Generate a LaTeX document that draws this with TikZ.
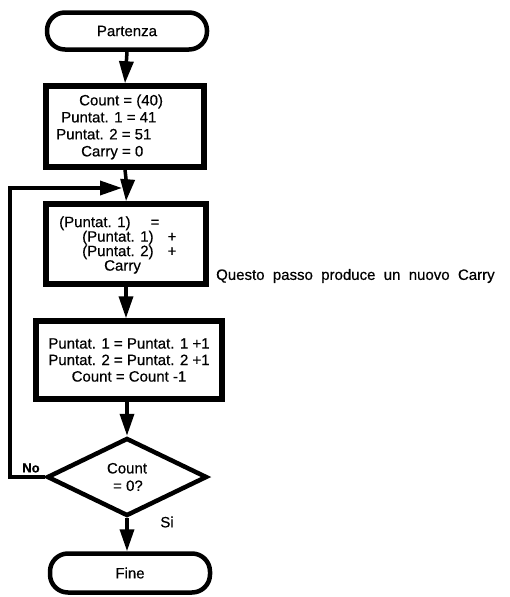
\documentclass[tikz,border=0pt]{standalone}
\usepackage{fontspec}
\setmainfont{Liberation Sans}[FakeBold=0.5]
\usetikzlibrary{arrows.meta,shapes.geometric}
\begin{document}
\begin{tikzpicture}[x=1pt,y=-1pt,
  term/.style={draw,line width=4.5pt,rounded corners=18pt,minimum width=160pt,minimum height=37pt,inner sep=0pt,font=\fontsize{15}{17}\selectfont},
  procbox/.style={draw,line width=5.5pt,inner sep=0pt},
  txt/.style={inner sep=0pt,font=\fontsize{15}{17}\selectfont},
  decision/.style={draw,shape=diamond,line width=4.5pt,minimum width=160pt,minimum height=78pt,aspect=2.05,inner sep=0pt,font=\fontsize{15}{17.5}\selectfont,align=center},
  conn/.style={line width=3.5pt,-{Triangle[length=22pt,width=14pt]}},
  plain/.style={line width=3.5pt},
  lbl/.style={font=\fontsize{15}{17}\selectfont,inner sep=0pt}]
\useasboundingbox (0,0) rectangle (509,597);
% nodes
\node[term] (start) at (127,31) {Partenza};
\node[procbox,minimum width=158pt,minimum height=81pt] (b1) at (125,126.5) {};
\node[txt,anchor=west,align=left] (t1) at (56,127) {\hspace*{23pt}Count = (40)\\\hspace*{5pt}Puntat. 1 = 41\\Puntat. 2 = 51\\\hspace*{25pt}Carry = 0};
\node[procbox,minimum width=160pt,minimum height=80pt] (b2) at (126,244) {};
\node[txt,anchor=west,align=left,font=\fontsize{15}{14.5}\selectfont] (t2) at (59,245) {(Puntat. 1)\hspace{20pt}=\\\hspace*{23pt}(Puntat. 1)\hspace{14pt}+\\\hspace*{23pt}(Puntat. 2)\hspace{14pt}+\\\hspace*{45pt}Carry};
\node[lbl,anchor=west] (note) at (216,276) {Questo\ \ passo\ \ produce\ \ un\ \ nuovo\ \ Carry};
\node[procbox,minimum width=186pt,minimum height=78pt,align=center,font=\fontsize{15}{16.5}\selectfont] (b3) at (129,360) {Puntat. 1 = Puntat. 1 +1\\Puntat. 2 = Puntat. 2 +1\\Count = Count -1};
\node[decision] (dec) at (127,477) {Count\\\hspace*{2pt}= 0?};
\node[term,minimum height=39pt] (fine) at (130,573) {Fine};
\node[lbl,font=\fontsize{13}{15}\bfseries] (no) at (31,468) {No};
\node[lbl] (si) at (167,522) {Si};
% connectors
\coordinate (j) at (127,188);
\coordinate (lc1) at (10,477);
\coordinate (lc2) at (10,188);
\draw[conn] (start.south) -- (b1.north);
\draw[plain] (b1.south) -- (j);
\draw[conn] (j) -- (b2.north);
\draw[conn] (b2.south) -- (b2.south |- b3.north);
\draw[conn] (b3.south -| dec.north) -- (dec.north);
\draw[conn] (dec.south) -- (dec.south |- fine.north);
\draw[conn,shorten >=5pt] (dec.west) -- (lc1) -- (lc2) -- (j);
\end{tikzpicture}
\end{document}
